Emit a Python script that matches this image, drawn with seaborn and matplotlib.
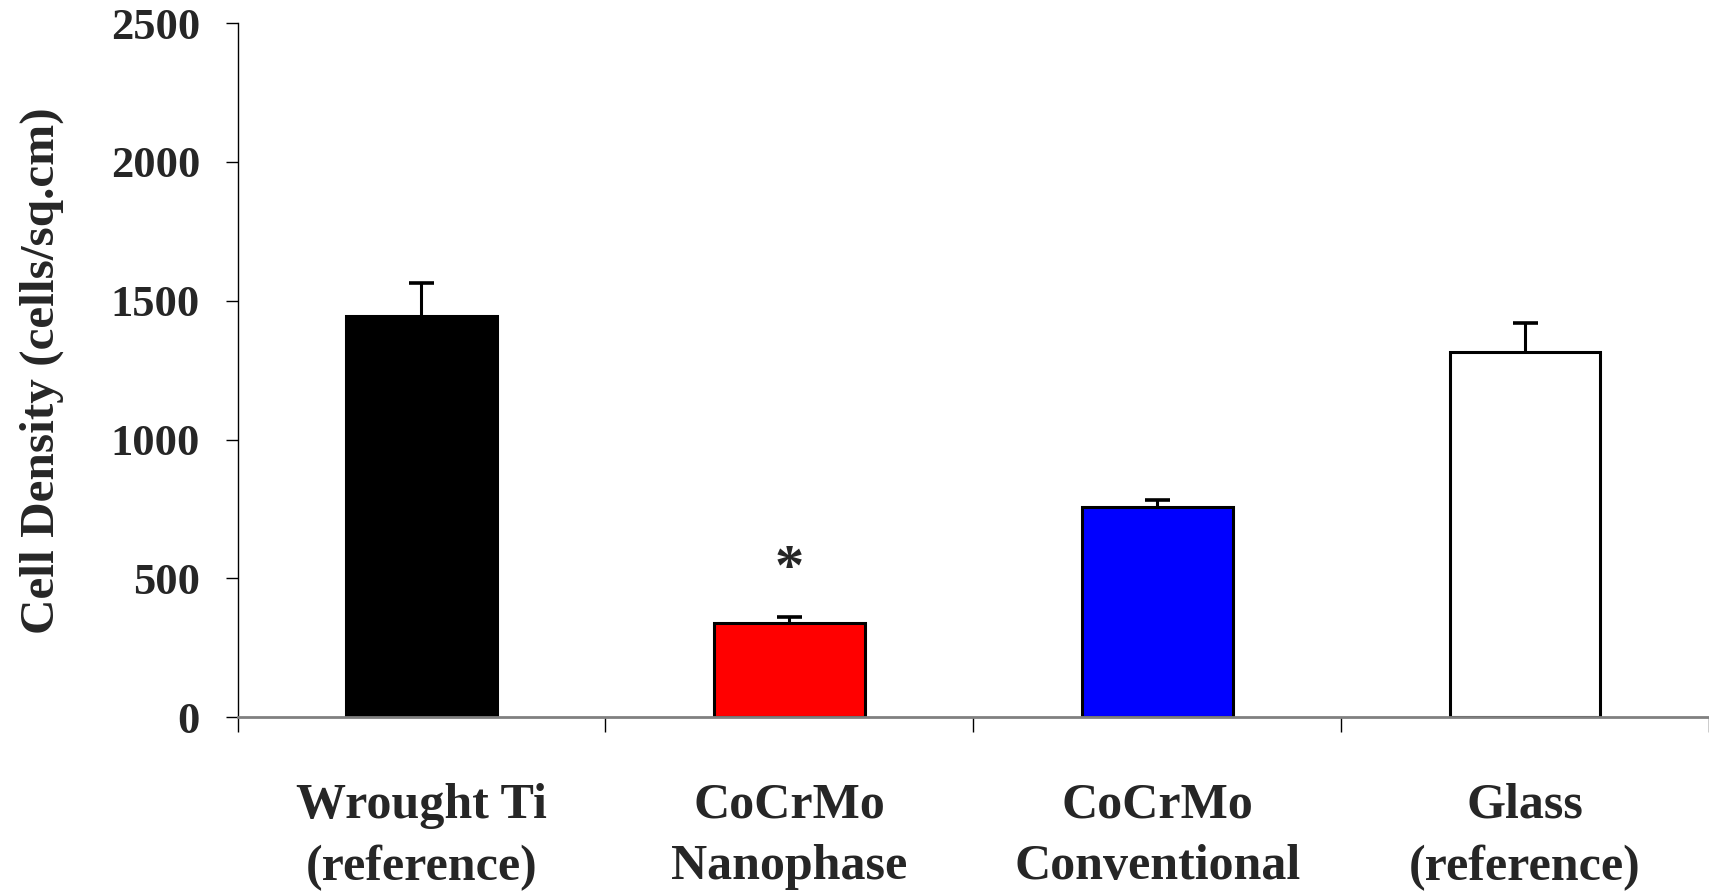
import numpy as np
import pandas as pd
import seaborn as sns
import matplotlib
matplotlib.use("Agg")
import matplotlib.pyplot as plt

# valeurs
categories = ["Wrought Ti\n(reference)", "CoCrMo\nNanophase", "CoCrMo\nConventional", "Glass\n(reference)"]
densities = [1445, 338, 757, 1315]
errors_up = [118, 23, 24, 106]
bar_colors = ["#000000", "#ff0000", "#0000ff", "#ffffff"]
y_ticks = [0, 500, 1000, 1500, 2000, 2500]
star_value = 530

sns.set_theme(style="white")
plt.rcParams["font.family"] = ["Liberation Serif", "DejaVu Serif"]
plt.rcParams["font.weight"] = "bold"

df = pd.DataFrame({"material": categories, "density": densities})

fig = plt.figure(figsize=(17.09, 8.91), dpi=100)
ax = fig.add_axes([0.139, 0.195, 0.861, 0.779])

sns.barplot(data=df, x="material", y="density", hue="material", palette=bar_colors,
            legend=False, width=0.41, edgecolor="black", linewidth=2.2, saturation=1, ax=ax)

# barres d'erreur vers le haut uniquement
eb = ax.errorbar(x=np.arange(len(categories)), y=densities,
                 yerr=[np.zeros(len(categories)), errors_up],
                 fmt="none", ecolor="black", elinewidth=2.2, capsize=9, capthick=2.6, zorder=1)
eb.lines[1][0].remove()  # pas de cap en bas

ax.text(1, star_value, "*", ha="center", va="center", fontsize=42, fontweight="bold")

ax.set_xlim(-0.5, len(categories) - 0.5)
ax.set_ylim(0, 2500)
ax.set_yticks(y_ticks)
ax.set_yticklabels([str(v) for v in y_ticks], fontsize=32, fontweight="bold")

# ticks entre les categories, comme dans Excel
ax.set_xticks(np.arange(-0.5, len(categories), 1.0))
ax.set_xticklabels([])
ax.set_xticks(np.arange(len(categories)), minor=True)
ax.set_xticklabels(categories, minor=True, fontsize=36, fontweight="bold", linespacing=1.45)
ax.tick_params(axis="x", which="major", direction="out", length=11, width=1, color="black", bottom=True)
ax.tick_params(axis="x", which="minor", length=0, pad=47)
ax.tick_params(axis="y", direction="out", length=9, width=1, color="black", pad=18, left=True)

ax.set_xlabel("")
ax.set_ylabel("Cell Density (cells/sq.cm)", fontsize=35.5, fontweight="bold")
ax.yaxis.set_label_coords(-0.118, 0.5)

for side in ["top", "right"]:
    ax.spines[side].set_visible(False)
ax.spines["left"].set_color("black")
ax.spines["left"].set_linewidth(1)
ax.spines["bottom"].set_color("#808080")
ax.spines["bottom"].set_linewidth(2)

fig.savefig("out.png", dpi=100)
